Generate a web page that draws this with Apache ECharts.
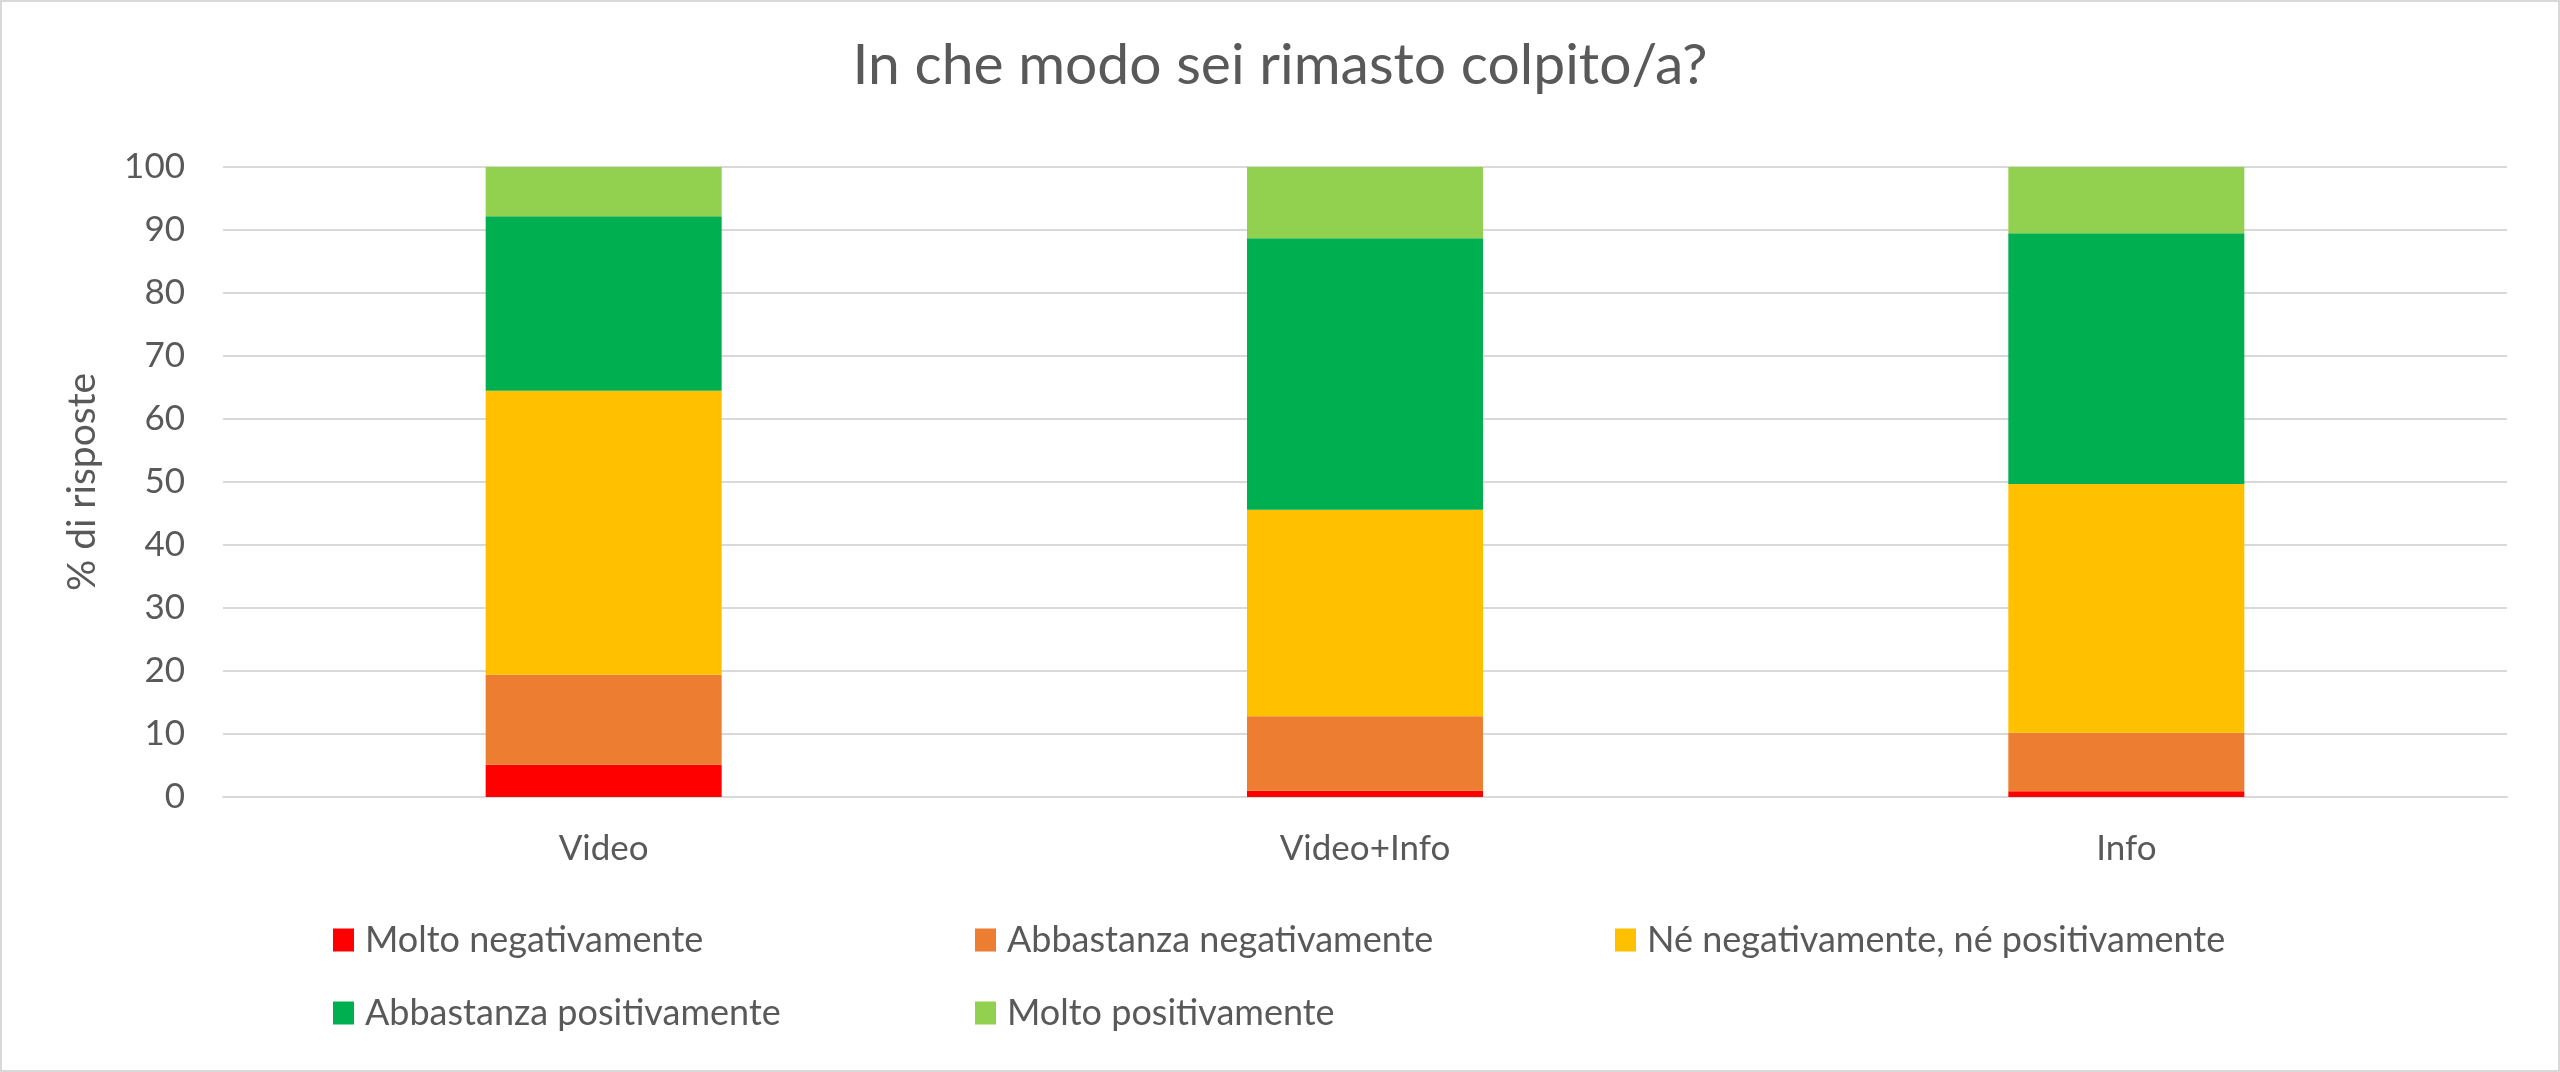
<!DOCTYPE html>
<html>
<head>
<meta charset="utf-8">
<script src="https://cdn.jsdelivr.net/npm/echarts@6/dist/echarts.min.js"></script>
<style>
  html, body { margin: 0; padding: 0; background: #fff; }
  #chart { width: 2560px; height: 1072px; box-sizing: border-box; border: 2px solid #d9d9d9; }
</style>
</head>
<body>
<div id="chart"></div>
<script>
'use strict'
// categories and values (% di risposte)
var categories = ['Video', 'Video+Info', 'Info'];
var seriesNames = [
    'Molto negativamente',
    'Abbastanza negativamente',
    'Né negativamente, né positivamente',
    'Abbastanza positivamente',
    'Molto positivamente'
];
var moltoNeg = [5.1, 1.0, 0.9];
var abbNeg = [14.3, 11.8, 9.3];
var neutro = [45.1, 32.8, 39.5];
var abbPos = [27.7, 43.1, 39.8];
var moltoPos = [7.8, 11.3, 10.5];
var yTicks = [0, 100, 10]; // min, max, interval

var colors = ['#ff0000', '#ed7d31', '#ffc000', '#00b050', '#92d050'];
var values = [moltoNeg, abbNeg, neutro, abbPos, moltoPos];

var chart = echarts.init(document.getElementById('chart'));

var textColor = '#595959';
var font = 'Lato';

// one legend per item so the columns line up like the original
var legendPos = [
    { left: 331, top: 920 },
    { left: 973, top: 920 },
    { left: 1613, top: 920 },
    { left: 331, top: 993 },
    { left: 973, top: 993 }
];

var legends = legendPos.map(function (p, i) {
    return {
        data: [seriesNames[i]],
        left: p.left,
        top: p.top,
        padding: 0,
        itemWidth: 21,
        itemHeight: 23,
        icon: 'rect',
        textStyle: {
            color: textColor,
            fontFamily: font,
            fontSize: 36,
            padding: [0, 0, 0, 6]
        }
    };
});

var series = seriesNames.map(function (name, i) {
    return {
        name: name,
        type: 'bar',
        stack: 'total',
        barWidth: '31%',
        data: values[i],
        itemStyle: {
            color: colors[i]
        },
        emphasis: { disabled: true }
    };
});

var option = {
    animation: false,
    title: {
        text: 'In che modo sei rimasto colpito/a?',
        left: 'center',
        top: 30,
        textStyle: {
            color: textColor,
            fontFamily: font,
            fontWeight: 'normal',
            fontSize: 57
        }
    },
    legend: legends,
    grid: {
        left: 221,
        right: 51,
        top: 165,
        bottom: 273,
        containLabel: false
    },
    xAxis: {
        type: 'category',
        data: categories,
        axisTick: { show: false },
        axisLine: {
            lineStyle: { color: '#d9d9d9', width: 2 }
        },
        axisLabel: {
            color: textColor,
            fontFamily: font,
            fontSize: 35,
            margin: 34
        }
    },
    yAxis: {
        type: 'value',
        min: yTicks[0],
        max: yTicks[1],
        interval: yTicks[2],
        name: '% di risposte',
        nameLocation: 'middle',
        nameGap: 121,
        nameTextStyle: {
            color: textColor,
            fontFamily: font,
            fontSize: 39
        },
        axisLine: { show: false },
        axisTick: { show: false },
        axisLabel: {
            color: textColor,
            fontFamily: font,
            fontSize: 35,
            margin: 38
        },
        splitLine: {
            lineStyle: { color: '#d9d9d9', width: 2 }
        }
    },
    series: series
};

chart.setOption(option);
</script>
</body>
</html>
